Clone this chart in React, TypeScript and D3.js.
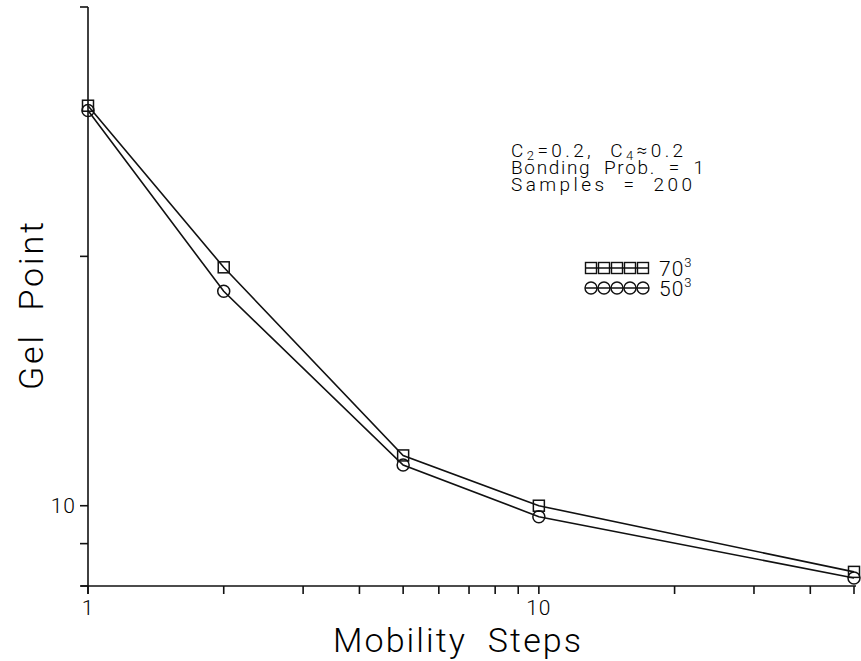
import React from "react";
import * as d3 from "d3";

// Mobility steps on the x axis (log scale)
const steps = [1, 2, 5, 10, 50];
// Gel point for each lattice size
const gel70 = [30.4, 19.4, 11.5, 10.0, 8.32];
const gel50 = [30.0, 18.15, 11.2, 9.7, 8.18];

const seriesNames = ["70", "50"];
const xTicks = [1, 2, 3, 4, 5, 6, 7, 8, 9, 10, 20, 30, 40, 50];
const xTickLabels = [1, 10];
const yTicks = [8, 9, 10, 20, 40];
const yTickLabels = [10];

const W = 861;
const H = 661;
const FONT = "Roboto, 'DejaVu Sans', sans-serif";
const SP = "\u00A0\u00A0";

export default function App() {
  const x = d3.scaleLog().domain([1, 50]).range([88, 854]);
  const y = d3.scaleLog().domain([8, 40]).range([586, 7]);
  const line = d3
    .line<[number, number]>()
    .x((d) => x(d[0]))
    .y((d) => y(d[1]));

  const pts70: [number, number][] = steps.map((s, i) => [s, gel70[i]]);
  const pts50: [number, number][] = steps.map((s, i) => [s, gel50[i]]);

  const sq = 5.5;
  const cr = 6;
  const stroke = "#111";

  const legendXs = [591, 604, 617, 630, 643];

  return (
    <svg
      width={W}
      height={H}
      style={{ position: "absolute", left: 0, top: 0, background: "#fff" }}
      fontFamily={FONT}
    >
      <rect width={W} height={H} fill="#fff" />

      {/* axes */}
      <g stroke={stroke} strokeWidth={1.6} fill="none">
        <line x1={x(1)} y1={y(40)} x2={x(1)} y2={594} />
        <line x1={81} y1={y(8)} x2={x(50) + 2} y2={y(8)} />
        {yTicks.map((t) => (
          <line key={"yt" + t} x1={80} x2={x(1)} y1={y(t)} y2={y(t)} />
        ))}
        {xTicks.map((t) => (
          <line key={"xt" + t} x1={x(t)} x2={x(t)} y1={y(8)} y2={594} />
        ))}
      </g>

      {/* tick labels */}
      {yTickLabels.map((t) => (
        <text
          key={"yl" + t}
          x={76}
          y={y(t)}
          textAnchor="end"
          dominantBaseline="central"
          fontSize={21}
          fontWeight={300}
          letterSpacing={1}
        >
          {t}
        </text>
      ))}
      {xTickLabels.map((t) => (
        <text
          key={"xl" + t}
          x={x(t)}
          y={608}
          textAnchor="middle"
          dominantBaseline="central"
          fontSize={21}
          fontWeight={300}
          letterSpacing={1}
        >
          {t}
        </text>
      ))}

      {/* axis titles */}
      <text
        x={333}
        y={652}
        fontSize={34}
        fontWeight={300}
        textLength={248}
        lengthAdjust="spacing"
      >
        {"Mobility" + SP + "Steps"}
      </text>
      <text
        transform="translate(43,390) rotate(-90)"
        fontSize={34}
        fontWeight={300}
        textLength={168}
        lengthAdjust="spacing"
      >
        {"Gel" + SP + "Point"}
      </text>

      {/* series lines */}
      <path d={line(pts70) ?? ""} fill="none" stroke={stroke} strokeWidth={1.6} />
      <path d={line(pts50) ?? ""} fill="none" stroke={stroke} strokeWidth={1.6} />

      {/* markers */}
      <g fill="none" stroke={stroke} strokeWidth={1.5}>
        {pts70.map((p, i) => (
          <rect
            key={"s" + i}
            x={x(p[0]) - sq}
            y={y(p[1]) - sq}
            width={sq * 2}
            height={sq * 2}
          />
        ))}
        {pts50.map((p, i) => (
          <circle key={"c" + i} cx={x(p[0])} cy={y(p[1])} r={cr} />
        ))}
      </g>

      {/* annotation */}
      <g fontSize={19} fontWeight={300}>
        <text x={511} y={157} letterSpacing={3.4}>
          C<tspan fontSize={13} dy={3}>2</tspan>
          <tspan dy={-3}>{"=0.2," + SP + "C"}</tspan>
          <tspan fontSize={13} dy={3}>4</tspan>
          <tspan dy={-3}>≈0.2</tspan>
        </text>
        <text x={511} y={174} textLength={193} lengthAdjust="spacing">
          {"Bonding" + SP + "Prob." + SP + "=" + SP + "1"}
        </text>
        <text x={511} y={191} textLength={181} lengthAdjust="spacing">
          {"Samples" + SP + "=" + SP + "200"}
        </text>
      </g>

      {/* legend */}
      <g stroke={stroke} strokeWidth={1.4} fill="none">
        <line x1={legendXs[0] - sq} x2={legendXs[4] + sq} y1={268} y2={268} />
        {legendXs.map((lx, i) => (
          <rect key={"ls" + i} x={lx - sq} y={268 - sq} width={sq * 2} height={sq * 2} />
        ))}
        <line x1={legendXs[0] - cr} x2={legendXs[4] + cr} y1={288} y2={288} />
        {legendXs.map((lx, i) => (
          <circle key={"lc" + i} cx={lx} cy={288} r={cr} />
        ))}
      </g>
      <g fontSize={21} fontWeight={300} letterSpacing={1}>
        {seriesNames.map((n, i) => (
          <text key={"ln" + n} x={659} y={276 + i * 20}>
            {n}
            <tspan fontSize={13} dy={-9}>3</tspan>
          </text>
        ))}
      </g>
    </svg>
  );
}
